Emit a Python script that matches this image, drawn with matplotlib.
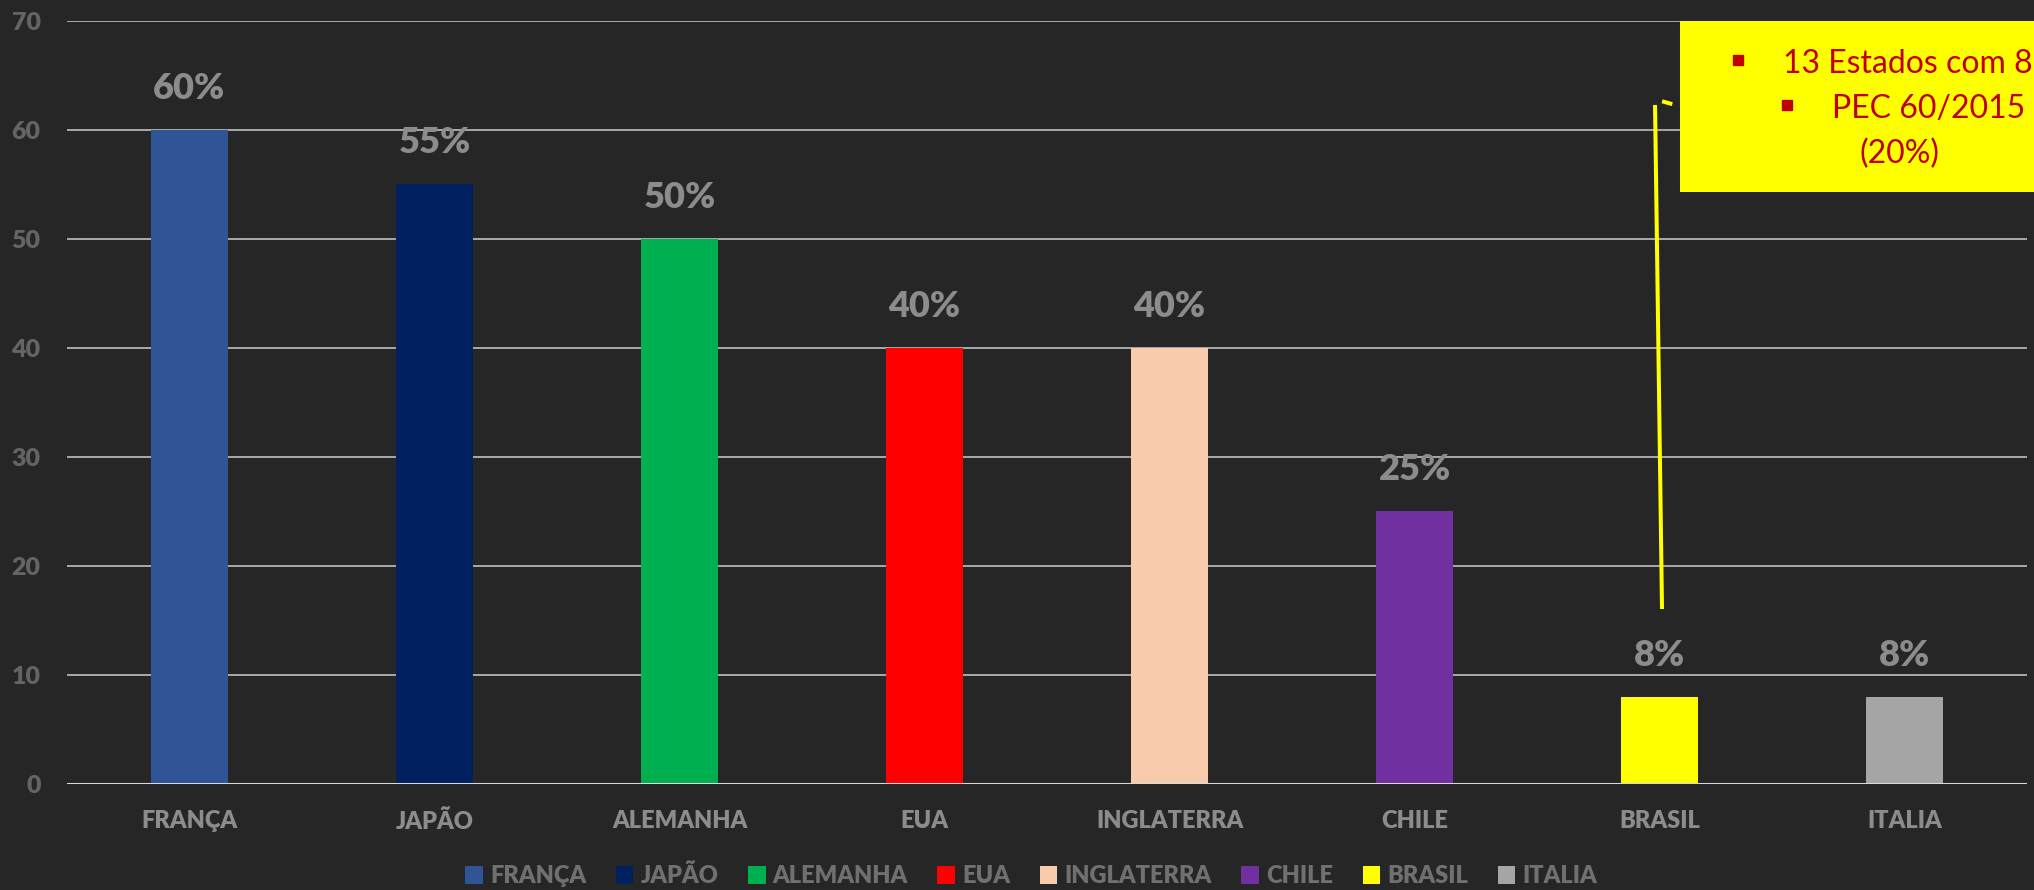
import matplotlib
matplotlib.use("Agg")
from matplotlib import pyplot as plt
from matplotlib.lines import Line2D
from matplotlib.patches import Rectangle, Patch

# dados
paises = ["FRANÇA", "JAPÃO", "ALEMANHA", "EUA", "INGLATERRA", "CHILE", "BRASIL", "ITALIA"]
valores = [60, 55, 50, 40, 40, 25, 8, 8]
cores = ["#2F5597", "#002060", "#00B050", "#FF0000", "#F8CBAD", "#7030A0", "#FFFF00", "#A5A5A5"]
yticks = [0, 10, 20, 30, 40, 50, 60, 70]
nota = ["13 Estados com 8%", "PEC 60/2015", "(20%)"]

bg = "#262626"
plt.rcParams['font.family'] = ['Lato', 'DejaVu Sans']
peso = "heavy"

fig = plt.figure(figsize=(20.34, 8.9), dpi=100, facecolor=bg)
ax = fig.add_axes([0.0329, 0.1194, 0.9637, 0.8573], facecolor=bg)

x = list(range(len(paises)))
barras = ax.bar(x, valores, width=0.314, color=cores, zorder=3)
ax.bar_label(barras, labels=["%d%%" % v for v in valores], padding=18,
             color="#8c8c8c", fontsize=26, fontweight=peso)

ax.set_xlim(-0.5, len(paises) - 0.5)
ax.set_ylim(0, 70)
ax.set_yticks(yticks)
ax.set_xticks(x)
ax.set_xticklabels(paises)
ax.yaxis.grid(True, color="#bfbfbf", linewidth=1.2, zorder=0)
ax.axhline(0, color="#d9d9d9", linewidth=2.2, zorder=4)
for s in ax.spines.values():
    s.set_visible(False)
ax.tick_params(axis="y", length=0, pad=19, labelsize=18, labelcolor="#646464")
ax.tick_params(axis="x", length=0, pad=19, labelsize=17, labelcolor="#8c8c8c")
for t in ax.get_xticklabels() + ax.get_yticklabels():
    t.set_fontweight(peso)

# legenda
handles = [Patch(facecolor=c, label=p) for p, c in zip(paises, cores)]
leg = fig.legend(handles=handles, loc="center", bbox_to_anchor=(0.507, 0.016), ncol=8,
                 frameon=False, fontsize=17, handlelength=0.75, handleheight=0.75,
                 handletextpad=0.3, columnspacing=1.25, borderaxespad=0)
for t in leg.get_texts():
    t.set_color("#707070")
    t.set_fontweight(peso)

# caixa amarela com a nota
fig.add_artist(Rectangle((0.826, 0.7846), 0.2, 0.1921, transform=fig.transFigure,
                         facecolor="#FFFF00", edgecolor="none", zorder=5))
vermelho = "#C00000"
fig.add_artist(Line2D([0.8545], [0.9326], marker="s", markersize=7.5, color=vermelho,
                      linestyle="none", transform=fig.transFigure, zorder=6))
fig.add_artist(Line2D([0.8786], [0.882], marker="s", markersize=7.5, color=vermelho,
                      linestyle="none", transform=fig.transFigure, zorder=6))
fig.text(0.8766, 0.918, nota[0], color=vermelho, fontsize=23, va="baseline", zorder=6)
fig.text(0.9007, 0.8674, nota[1], color=vermelho, fontsize=23, va="baseline", zorder=6)
fig.text(0.914, 0.8169, nota[2], color=vermelho, fontsize=23, va="baseline", zorder=6)

# linha amarela apontando para o Brasil
fig.add_artist(Line2D([0.8137, 0.8171], [0.8798, 0.318], color="#FFFF00", linewidth=2.9,
                      transform=fig.transFigure, zorder=6))
fig.add_artist(Line2D([0.8181, 0.8212], [0.8856, 0.8836], color="#FFFF00", linewidth=2.9,
                      transform=fig.transFigure, zorder=6))

fig.savefig("out.png", dpi=100, facecolor=bg)
